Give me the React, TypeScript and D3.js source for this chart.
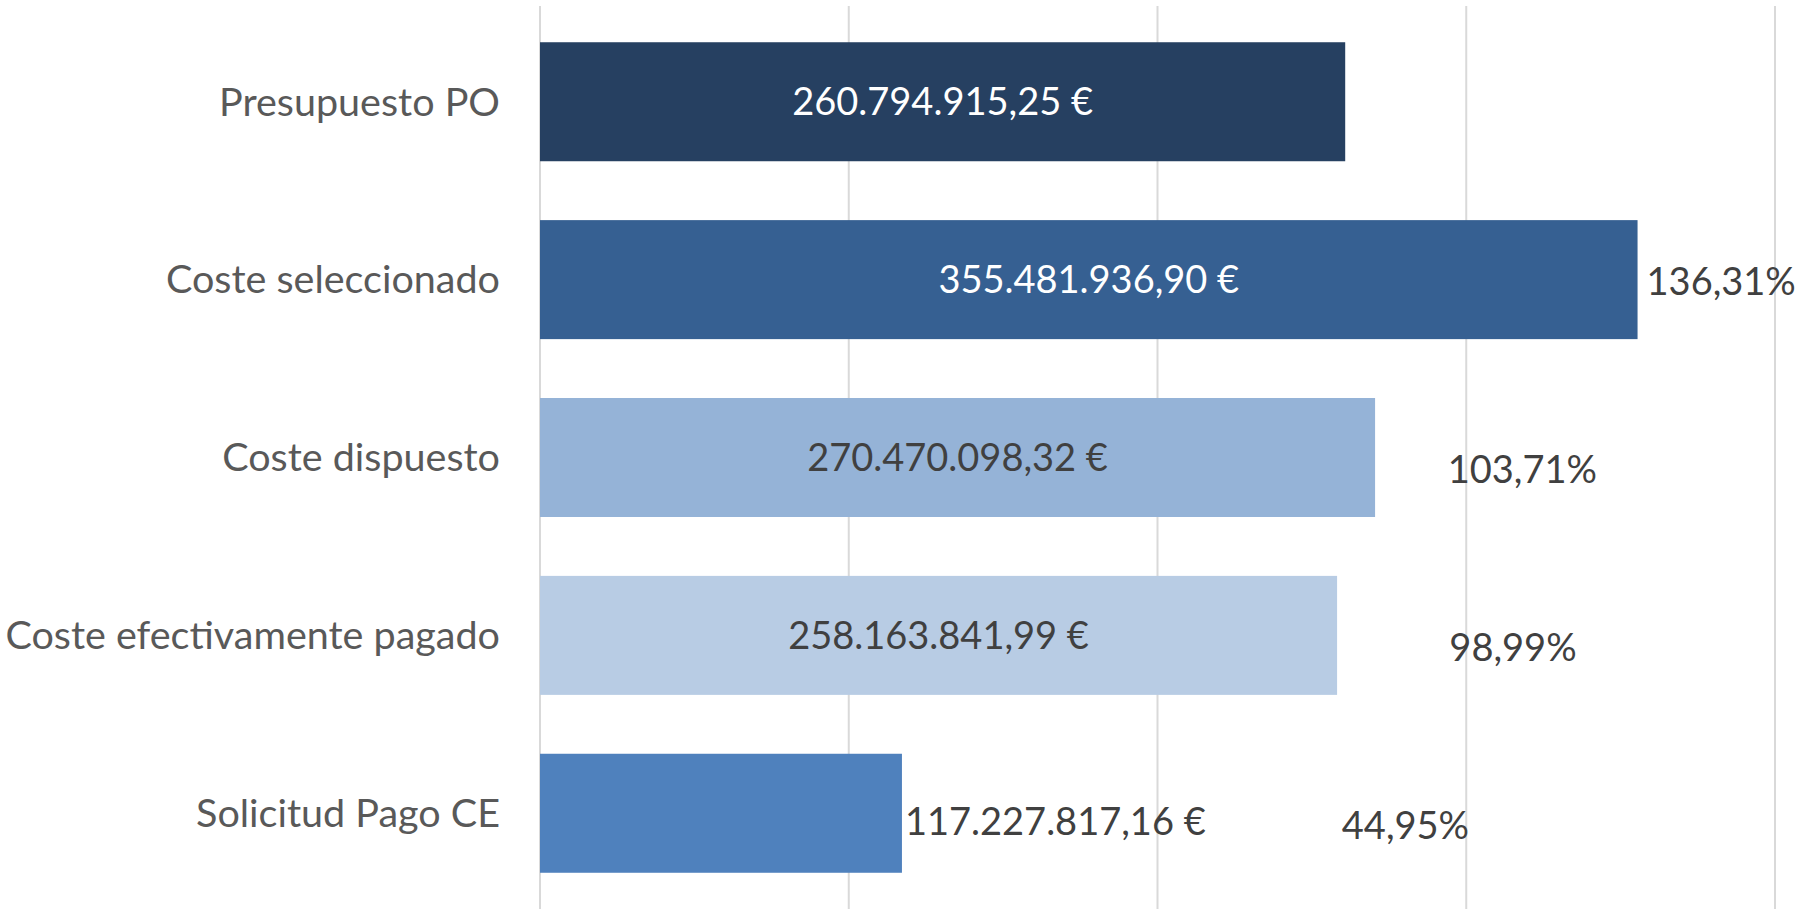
import React from "react";
import * as d3 from "d3";

// ---- data ----
const categories: string[] = [
  "Presupuesto PO",
  "Coste seleccionado",
  "Coste dispuesto",
  "Coste efectivamente pagado",
  "Solicitud Pago CE",
];
const values: number[] = [
  260794915.25,
  355481936.9,
  270470098.32,
  258163841.99,
  117227817.16,
];
const valueLabels: string[] = [
  "260.794.915,25 €",
  "355.481.936,90 €",
  "270.470.098,32 €",
  "258.163.841,99 €",
  "117.227.817,16 €",
];
const percents: (number | null)[] = [null, 136.31, 103.71, 98.99, 44.95];
const percentLabels: (string | null)[] = [null, "136,31%", "103,71%", "98,99%", "44,95%"];
const xTicks: number[] = [0, 100e6, 200e6, 300e6, 400e6];

// ---- styles ----
const barColors = ["#264061", "#366092", "#95b3d7", "#b8cce4", "#4f81bd"];
const valueLabelColors = ["#ffffff", "#ffffff", "#404040", "#404040", "#404040"];
const valueLabelMode = ["center", "center", "center", "center", "outside"];
const percentMode = ["none", "end", "float", "float", "float"];

const W = 1797;
const H = 909;
const FONT = "Lato, 'Open Sans', sans-serif";
const FS = 38;
const FS_CAT = 39.5;

export default function App() {
  const x = d3.scaleLinear().domain([0, 400e6]).range([540, 1775]);
  const y = d3
    .scaleBand<string>()
    .domain(categories)
    .range([12, 903])
    .paddingInner(0.331)
    .paddingOuter(0.17);
  const pctX = d3.scaleLinear().domain([0, 100]).range([1316, 1515]);

  const bw = y.bandwidth();

  return (
    <svg
      width={W}
      height={H}
      style={{ position: "absolute", left: 0, top: 0, background: "#fff" }}
      fontFamily={FONT}
    >
      <rect x={0} y={0} width={W} height={H} fill="#ffffff" />
      {/* gridlines */}
      {xTicks.map((t) => (
        <line
          key={t}
          x1={x(t)}
          x2={x(t)}
          y1={6}
          y2={H}
          stroke="#d9d9d9"
          strokeWidth={2}
        />
      ))}
      {/* bars */}
      {categories.map((c, i) => (
        <rect
          key={c}
          x={x(0)}
          y={y(c)}
          width={x(values[i]) - x(0)}
          height={bw}
          fill={barColors[i]}
        />
      ))}
      {/* category labels */}
      {categories.map((c) => (
        <text
          key={"cat" + c}
          x={x(0) - 40}
          y={(y(c) as number) + bw / 2}
          dy="0.35em"
          textAnchor="end"
          fontSize={FS_CAT}
          fill="#595959"
        >
          {c}
        </text>
      ))}
      {/* value labels */}
      {categories.map((c, i) => {
        const cy = (y(c) as number) + bw / 2;
        const inside = valueLabelMode[i] === "center";
        const lx = inside ? (x(0) + x(values[i])) / 2 : x(values[i]) + 3;
        return (
          <text
            key={"val" + c}
            x={lx}
            y={inside ? cy : cy + 8}
            dy="0.35em"
            textAnchor={inside ? "middle" : "start"}
            fontSize={FS}
            fill={valueLabelColors[i]}
          >
            {valueLabels[i]}
          </text>
        );
      })}
      {/* percent labels */}
      {categories.map((c, i) => {
        const p = percents[i];
        if (p == null || percentMode[i] === "none") return null;
        const cy = (y(c) as number) + bw / 2;
        const atEnd = percentMode[i] === "end";
        return (
          <text
            key={"pct" + c}
            x={atEnd ? x(values[i]) + 9 : pctX(p)}
            y={atEnd ? cy + 2 : cy + 12}
            dy="0.35em"
            textAnchor={atEnd ? "start" : "middle"}
            fontSize={FS}
            fill="#404040"
          >
            {percentLabels[i]}
          </text>
        );
      })}
    </svg>
  );
}
